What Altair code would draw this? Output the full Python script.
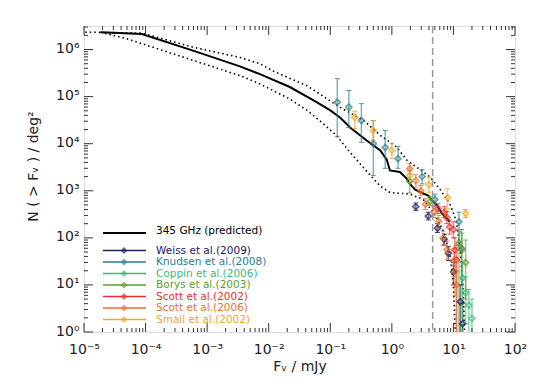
import math
import altair as alt
import pandas as pd

W, H = 431, 306
FONT = "DejaVu Sans"

# ---------------- predicted counts (345 GHz) ----------------
pred_x = [1.86e-5, 8.7e-5, 5.9e-4, 3.4e-3, 7.2e-3, 0.022, 0.060, 0.10, 0.144, 0.21, 0.39,
          0.65, 0.83, 0.93, 1.35, 1.74, 1.95, 2.37, 2.9, 3.9, 4.5, 5.4, 6.5, 7.8, 8.7]
pred_y = [2.34e6, 2.14e6, 9.5e5, 4.4e5, 3.0e5, 1.6e5, 7.6e4, 5.1e4, 3.6e4, 2.2e4, 1.17e4,
          7.2e3, 4.5e3, 2.7e3, 2.5e3, 1.82e3, 1.41e3, 1.07e3, 930, 790, 630, 490, 330, 257, 219]

up_x = [1.05e-5, 8.7e-5, 5.9e-4, 3.4e-3, 7.2e-3, 0.0117, 0.042, 0.145, 0.35, 0.65, 1.2,
        1.74, 3.0, 4.2, 6.3, 8.9, 11.2, 13.2, 14.5, 15.1]
up_y = [2.34e6, 2.24e6, 1.12e6, 6.8e5, 5.0e5, 3.5e5, 1.7e5, 5.9e4, 3.1e4, 1.5e4, 8.5e3,
        4.5e3, 2.7e3, 1.95e3, 1.0e3, 500, 224, 40, 6.3, 1.0]

low_x = [1.86e-5, 4.9e-5, 5.9e-4, 3.4e-3, 7.2e-3, 0.022, 0.042, 0.076, 0.126, 0.21, 0.39,
         0.65, 0.93, 1.95, 3.2, 5.0, 7.1, 8.9, 10.0, 10.7]
low_y = [2.34e6, 1.7e6, 5.9e5, 2.8e5, 1.86e5, 8.9e4, 5.1e4, 2.7e4, 1.5e4, 6.5e3, 2.6e3,
         1.25e3, 920, 850, 660, 316, 126, 40, 10, 1.0]

# ---------------- observed counts ----------------
series_names = ["Weiss et al.(2009)", "Knudsen et al.(2008)", "Coppin et al.(2006)",
                "Borys et al.(2003)", "Scott et al.(2002)", "Scott et al.(2006)",
                "Smail et al.(2002)"]
series_colors = ["#1c2160", "#2d7d8e", "#3dba7a", "#5e9e2c", "#e2342c", "#ea6f2e", "#f4a622"]

weiss_x = [2.45, 3.9, 5.5, 7.1, 8.3, 10.0, 12.9, 14.1]
weiss_y = [460, 290, 160, 93, 47, 19, 4.4, 1.5]
weiss_lo = [380, 240, 130, 70, 33, 10, 0.5, 0.5]
weiss_hi = [550, 350, 200, 120, 65, 30, 10, 4]

knud_x = [0.13, 0.20, 0.32, 0.50, 0.78, 1.26, 3.1, 5.0, 12.3, 13.5]
knud_y = [7.6e4, 6.0e4, 3.1e4, 1.0e4, 8.3e3, 4.8e3, 2.0e3, 650, 220, 60]
knud_lo = [1.4e4, 2.2e4, 1.07e4, 2.1e3, 3.0e3, 3.0e3, 1.4e3, 480, 80, 10]
knud_hi = [2.4e5, 1.35e5, 7.1e4, 3.1e4, 1.9e4, 8.7e3, 2.8e3, 850, 350, 150]

copp_x = [14.1, 15.8, 17.8, 20.0]
copp_y = [14, 6.8, 3.7, 1.95]
copp_lo = [0.5, 1.5, 0.5, 0.5]
copp_hi = [30, 15, 8, 5]

borys_x = [1.95, 4.2, 12.3, 13.8, 15.8]
borys_y = [1.6e3, 600, 78, 56, 30]
borys_lo = [900, 480, 0.5, 0.5, 5]
borys_hi = [2.7e3, 750, 135, 126, 90]

scott02_x = [5.6, 7.1, 7.8, 8.7, 10.0, 10.5, 11.2]
scott02_y = [420, 355, 270, 170, 150, 55, 34]
scott02_lo = [330, 270, 200, 120, 100, 25, 0.5]
scott02_hi = [530, 460, 360, 240, 220, 100, 70]

scott06_x = [1.95, 2.45, 2.95, 3.5, 4.8, 5.75, 6.8, 7.9, 10.2, 10.5, 11.2]
scott06_y = [2.95e3, 1.65e3, 1.0e3, 520, 355, 225, 100, 56, 34, 19, 10]
scott06_lo = [2.3e3, 1.2e3, 800, 400, 270, 160, 70, 35, 15, 6, 0.5]
scott06_hi = [3.8e3, 2.2e3, 1.3e3, 680, 460, 300, 140, 85, 60, 35, 20]

smail_x = [0.25, 0.50, 1.0, 1.95, 4.0, 8.0, 15.8]
smail_y = [3.6e4, 1.9e4, 7.2e3, 2.1e3, 1.35e3, 710, 330]
smail_lo = [2.1e4, 1.17e4, 4.8e3, 1.5e3, 930, 420, 270]
smail_hi = [4.9e4, 3.1e4, 1.0e4, 3.0e3, 1.95e3, 1.1e3, 400]

dash_x = [4.6]

x_decades = [1e-5, 1e-4, 1e-3, 1e-2, 1e-1, 1e0, 1e1, 1e2]
y_decades = [1e0, 1e1, 1e2, 1e3, 1e4, 1e5, 1e6]

# ---------------- build tables ----------------
obs_parts = [
    (weiss_x, weiss_y, weiss_lo, weiss_hi),
    (knud_x, knud_y, knud_lo, knud_hi),
    (copp_x, copp_y, copp_lo, copp_hi),
    (borys_x, borys_y, borys_lo, borys_hi),
    (scott02_x, scott02_y, scott02_lo, scott02_hi),
    (scott06_x, scott06_y, scott06_lo, scott06_hi),
    (smail_x, smail_y, smail_lo, smail_hi),
]
rows = []
for name, (xs, ys, los, his) in zip(series_names, obs_parts):
    for a, b, c, d in zip(xs, ys, los, his):
        rows.append({"series": name, "x": a, "y": b, "lo": c, "hi": d})
obs = pd.DataFrame(rows)

pred = pd.DataFrame({"x": pred_x, "y": pred_y})
upper = pd.DataFrame({"x": up_x, "y": up_y})
lower = pd.DataFrame({"x": low_x, "y": low_y})

sup = {"-": "\u207b", "0": "\u2070", "1": "\u00b9", "2": "\u00b2", "3": "\u00b3",
       "4": "\u2074", "5": "\u2075", "6": "\u2076", "7": "\u2077", "8": "\u2078", "9": "\u2079"}


def label_expr(decades):
    expr = "''"
    for d in reversed(decades):
        k = int(round(math.log10(d)))
        lab = "10" + "".join(sup[c] for c in str(k))
        expr = f"(round(log(datum.value)/LN10) == {k}) ? '{lab}' : {expr}"
    return expr


xsc = alt.Scale(type="log", domain=[1e-5, 1e2], nice=False)
ysc = alt.Scale(type="log", domain=[1, 10 ** 6.5], nice=False)

xax = alt.Axis(values=x_decades, labelExpr=label_expr(x_decades), tickSize=0, domain=False,
               grid=False, labelPadding=10, title="F\u1d65  /  mJy", titlePadding=3,
               labelFont=FONT, titleFont=FONT, labelFontSize=14, titleFontSize=14,
               labelColor="#222", titleColor="#222", titleFontWeight="normal", labelFlush=False)
yax = alt.Axis(values=y_decades, labelExpr=label_expr(y_decades), tickSize=0, domain=False,
               grid=False, labelPadding=5, labelBaseline="alphabetic", labelOffset=3,
               title="N ( > F\u1d65 )  /  deg\u00b2", titlePadding=15, titleY=140,
               labelFont=FONT, titleFont=FONT, labelFontSize=14, titleFontSize=14,
               labelColor="#222", titleColor="#222", titleFontWeight="normal", labelFlush=False)

X = lambda f="x": alt.X(f"{f}:Q", scale=xsc, axis=xax)
Y = lambda f="y": alt.Y(f"{f}:Q", scale=ysc, axis=yax)
color = alt.Color("series:N", scale=alt.Scale(domain=series_names, range=series_colors), legend=None)

layers = []
layers.append(alt.Chart(upper).mark_line(color="black", strokeDash=[1.5, 3], strokeWidth=1.6, clip=True)
              .encode(x=X(), y=Y()))
layers.append(alt.Chart(lower).mark_line(color="black", strokeDash=[1.5, 3], strokeWidth=1.6, clip=True)
              .encode(x=X(), y=Y()))
layers.append(alt.Chart(pred).mark_line(color="black", strokeWidth=2, clip=True)
              .encode(x=X(), y=Y()))
layers.append(alt.Chart(obs).mark_rule(strokeWidth=1.5, opacity=0.6, clip=True)
              .encode(x=X(), y=Y("lo"), y2="hi:Q", color=color))
layers.append(alt.Chart(obs).mark_tick(orient="horizontal", size=5, thickness=1, opacity=0.8, clip=True)
              .encode(x=X(), y=Y("lo"), color=color))
layers.append(alt.Chart(obs).mark_tick(orient="horizontal", size=5, thickness=1, opacity=0.8, clip=True)
              .encode(x=X(), y=Y("hi"), color=color))
layers.append(alt.Chart(obs).mark_point(shape="diamond", filled=False, size=34, strokeWidth=1.8, clip=True)
              .encode(x=X(), y=Y(), color=color))
layers.append(alt.Chart(pd.DataFrame({"x": dash_x})).mark_rule(color="#9a9a9a", strokeDash=[7, 4], strokeWidth=1.5)
              .encode(x=X()))

# ---------------- inward tick marks on all four sides ----------------
x_minor = [m * d for d in x_decades[:-1] for m in range(2, 10)]
y_minor = [m * d for d in y_decades for m in range(2, 10) if m * d <= 10 ** 6.5]
xt_major = pd.DataFrame({"x": x_decades})
xt_minor = pd.DataFrame({"x": x_minor})
yt_major = pd.DataFrame({"y": y_decades})
yt_minor = pd.DataFrame({"y": y_minor})
for df, ln in ((xt_major, 9), (xt_minor, 4)):
    layers.append(alt.Chart(df).mark_rule(color="#333", strokeWidth=1)
                  .encode(x=X(), y=alt.value(H), y2=alt.value(H - ln)))
    layers.append(alt.Chart(df).mark_rule(color="#333", strokeWidth=1)
                  .encode(x=X(), y=alt.value(0), y2=alt.value(ln)))
for df, ln in ((yt_major, 9), (yt_minor, 4)):
    layers.append(alt.Chart(df).mark_rule(color="#333", strokeWidth=1)
                  .encode(y=Y(), x=alt.value(0), x2=alt.value(ln)))
    layers.append(alt.Chart(df).mark_rule(color="#333", strokeWidth=1)
                  .encode(y=Y(), x=alt.value(W), x2=alt.value(W - ln)))

# ---------------- in-plot legend ----------------
leg_labels = ["345 GHz (predicted)"] + series_names
leg_colors = ["black"] + series_colors
leg_rows = [207, 224.5, 236, 247.5, 259, 270.5, 282, 293.5]
for i, (lab, col, yy) in enumerate(zip(leg_labels, leg_colors, leg_rows)):
    d = pd.DataFrame({"label": [lab]})
    layers.append(alt.Chart(d).mark_rule(color=col, strokeWidth=2 if i == 0 else 1.5)
                  .encode(x=alt.value(19), x2=alt.value(62), y=alt.value(yy)))
    if i > 0:
        layers.append(alt.Chart(d).mark_point(shape="diamond", filled=False, size=22, strokeWidth=1.6, color=col)
                      .encode(x=alt.value(40), y=alt.value(yy)))
    layers.append(alt.Chart(d).mark_text(align="left", baseline="middle", font=FONT, fontSize=10.5,
                                         dy=(-2 if i == 0 else 0), color=col)
                  .encode(x=alt.value(72), y=alt.value(yy), text="label:N"))

chart = (alt.layer(*layers)
         .properties(width=W, height=H, autosize="none",
                     padding={"left": 76, "top": 18, "right": 17, "bottom": 46})
         .configure_view(stroke="#333", strokeWidth=1)
         .configure(background="white"))

chart.save("out.html", embed_options={"renderer": "svg", "actions": False})
